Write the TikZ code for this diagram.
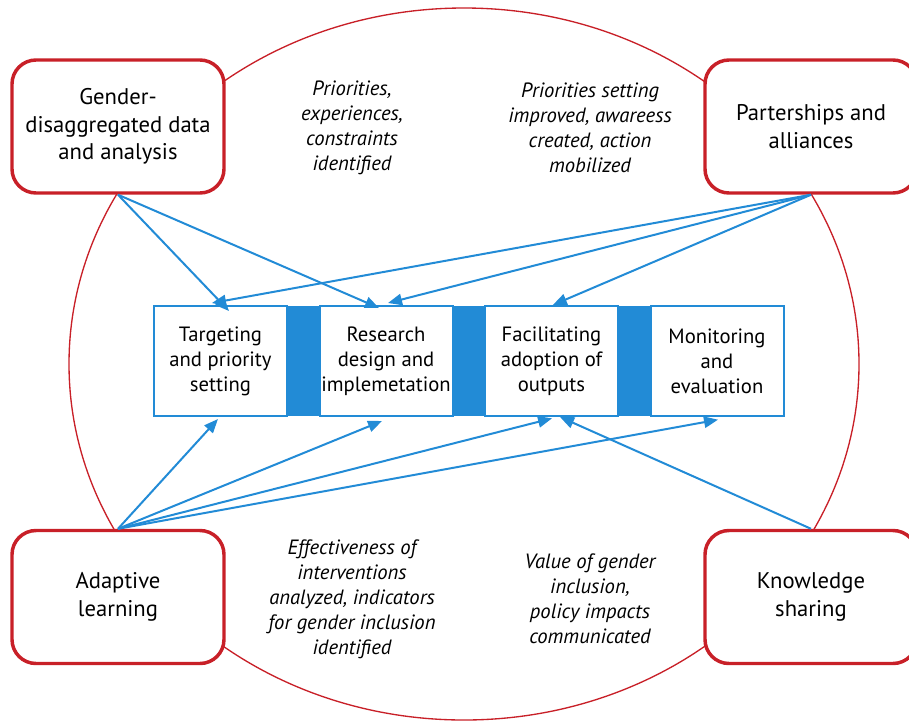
\documentclass[tikz,border=0pt]{standalone}
\usepackage{fontspec}
\setmainfont{PT Sans}
\usetikzlibrary{arrows.meta}
\definecolor{linkblue}{RGB}{34,139,214}
\definecolor{boxred}{RGB}{200,32,40}
\def\outerellipse{(464,364) ellipse (296.25pt and 267pt)}
\tikzset{
  pillar/.style={draw=boxred, line width=2.6pt, fill=white, rounded corners=18pt,
    minimum width=159pt, minimum height=99.75pt, align=center,
    font=\fontsize{17}{20.6}\selectfont},
  stage/.style={draw=linkblue, line width=1.5pt, fill=white, inner sep=0pt,
    minimum width=99.75pt, minimum height=82.5pt, align=center,
    font=\fontsize{15.5}{18.75}\selectfont},
  gapbar/.style={fill=linkblue, inner sep=0pt, minimum width=24.75pt, minimum height=82.5pt},
  outcome/.style={align=center, font=\fontsize{15.5}{18.75}\selectfont\itshape},
  link/.style={draw=linkblue, line width=1.5pt, -{Triangle[length=10.5pt,width=8.5pt]}}
}

\begin{document}
\begin{tikzpicture}[x=0.75pt, y=-0.75pt]
                        \useasboundingbox (0,0) rectangle (909,722);
                        \draw[boxred, line width=1pt] \outerellipse;
                        \node[pillar] (gen)   at (118,126.5) {Gender-\\disaggregated data\\and analysis};
                        \node[pillar] (par)   at (811,126.5) {Parterships and\\alliances};
                        \node[pillar] (adapt) at (118,597)   {Adaptive\\learning};
                        \node[pillar] (know)  at (811,597)   {Knowledge\\sharing};
                        \node[stage] (targ)  at (220.5,361) {Targeting\\and priority\\setting};
                        \node[stage] (rsch)  at (386,361)   {Research\\design and\\implemetation};
                        \node[stage] (adopt) at (551.5,361) {Facilitating\\adoption of\\outputs};
                        \node[stage] (monit) at (717,361)   {Monitoring\\and\\evaluation};
                        \node[gapbar] (bar1) at (303.5,361) {};
                        \node[gapbar] (bar2) at (468.5,361) {};
                        \node[gapbar] (bar3) at (634.5,361) {};
                        \node[outcome] (out1) at (352,128) {Priorities,\\experiences,\\constraints\\identified};
                        \node[outcome] (out2) at (590,128) {Priorities setting\\improved, awareess\\created, action\\mobilized};
                        \node[outcome] (out3) at (352,599) {Effectiveness of\\interventions\\analyzed, indicators\\for gender inclusion\\identified};
                        \node[outcome] (out4) at (590,599) {Value of gender\\inclusion,\\policy impacts\\communicated};
                        \draw[link] (gen.south) -- ([xshift=6.4pt,yshift=-4.5pt]targ.north);
                        \draw[link] (gen.south) -- ([xshift=-5.25pt,yshift=-2.25pt]rsch.north);
                        \draw[link] (par.south) -- ([xshift=-6.4pt,yshift=1.5pt]targ.north);
                        \draw[link] (par.south) -- ([xshift=1.5pt,yshift=1.5pt]rsch.north);
                        \draw[link] (par.south) -- ([xshift=1pt]adopt.north);
                        \draw[link] (adapt.north) -- ([xshift=-1.9pt,yshift=-1.5pt]targ.south);
                        \draw[link] (adapt.north) -- ([xshift=-3pt,yshift=-3pt]rsch.south);
                        \draw[link] (adapt.north) -- ([xshift=0.4pt,yshift=-1pt]adopt.south);
                        \draw[link] (adapt.north) -- ([xshift=0.75pt,yshift=-2pt]monit.south);
                        \draw[link] (know.north) -- ([xshift=6.4pt]adopt.south);
                      \end{tikzpicture}
\end{document}
